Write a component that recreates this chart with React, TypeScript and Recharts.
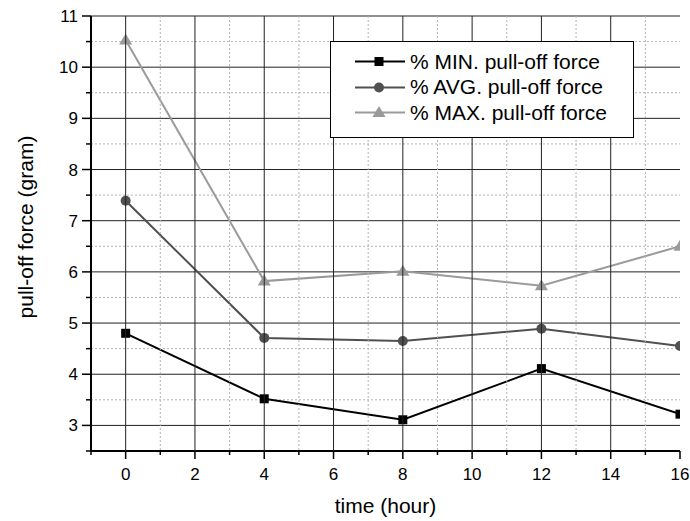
import React from "react";
import { LineChart, Line, XAxis, YAxis, CartesianGrid, Legend } from "recharts";

const times = [0, 4, 8, 12, 16];
const minForce = [4.8, 3.52, 3.11, 4.11, 3.22];
const avgForce = [7.39, 4.71, 4.65, 4.89, 4.55];
const maxForce = [10.53, 5.82, 6.01, 5.73, 6.5];

const xMajorTicks = [0, 2, 4, 6, 8, 10, 12, 14, 16];
const xMinorTicks = [-1, 1, 3, 5, 7, 9, 11, 13, 15];
const yMajorTicks = [3, 4, 5, 6, 7, 8, 9, 10, 11];
const yMinorTicks = [2.5, 3.5, 4.5, 5.5, 6.5, 7.5, 8.5, 9.5, 10.5];
const xDomain = [-1, 16];
const yDomain = [2.5, 11];

const data = times.map((t, i) => ({
    time: t,
    min: minForce[i],
    avg: avgForce[i],
    max: maxForce[i],
}));

const FONT = '"Liberation Sans", Arial, sans-serif';
const MARGIN = { top: 16, right: 10, bottom: 0, left: 0 };
const allX = [...xMajorTicks, ...xMinorTicks].sort((a, b) => a - b);
const allY = [...yMajorTicks, ...yMinorTicks].sort((a, b) => a - b);

const COLORS = { min: "#000000", avg: "#505050", max: "#9a9a9a" };

// horizontal grid rows through the y scale (falls back to a linear map of the plot box)
const yCoords = (values: number[]) => ({ yAxis, offset }: any) =>
    values.map((v) => {
        const s = yAxis && typeof yAxis.scale === "function" ? yAxis.scale(v) : NaN;
        return Number.isFinite(s)
            ? s
            : offset.top + ((yDomain[1] - v) / (yDomain[1] - yDomain[0])) * offset.height;
    });

const SquareDot = (props: any) => {
    const { cx, cy, index } = props;
    if (cx == null || cy == null) return null;
    return <rect key={"s" + index} x={cx - 4.5} y={cy - 4.5} width={9} height={9} fill={COLORS.min} />;
};

const CircleDot = (props: any) => {
    const { cx, cy, index } = props;
    if (cx == null || cy == null) return null;
    return <circle key={"c" + index} cx={cx} cy={cy} r={5} fill={COLORS.avg} />;
};

const TriangleDot = (props: any) => {
    const { cx, cy, index } = props;
    if (cx == null || cy == null) return null;
    return (
        <polygon
            key={"t" + index}
            points={`${cx},${cy - 6.5} ${cx - 6.5},${cy + 4.5} ${cx + 6.5},${cy + 4.5}`}
            fill={COLORS.max}
        />
    );
};

// bottom ticks also carry the vertical grid, drawn as thin rects (plain lines did not show)
const BottomTick = ({ x, y, payload }: any) => {
    const v = payload.value;
    const major = xMajorTicks.includes(v);
    const inside = v > xDomain[0] && v < xDomain[1];
    const h = y - MARGIN.top;
    return (
        <g>
            {inside && h > 0 && (
                <rect
                    x={x - 0.5}
                    y={MARGIN.top}
                    width={1}
                    height={h}
                    fill={major ? "#222" : "url(#minorDots)"}
                />
            )}
            <rect x={x - 0.75} y={y} width={1.5} height={major ? 8 : 4} fill="#000" />
            {major && (
                <text x={x} y={y + 29} textAnchor="middle" fontSize={17} fontFamily={FONT} fill="#000">
                    {v}
                </text>
            )}
        </g>
    );
};

const LeftTick = ({ x, y, payload }: any) => {
    const major = yMajorTicks.includes(payload.value);
    return (
        <g>
            <line x1={x - (major ? 9 : 5)} x2={x} y1={y} y2={y} stroke="#000" strokeWidth={1.5} />
            {major && (
                <text x={x - 13} y={y + 6} textAnchor="end" fontSize={17} fontFamily={FONT} fill="#000">
                    {payload.value}
                </text>
            )}
        </g>
    );
};

const TopTick = ({ x, y, payload }: any) => {
    const major = xMajorTicks.includes(payload.value);
    return <rect x={x - 0.75} y={y} width={1.5} height={major ? 8 : 4} fill="#000" />;
};

const RightTick = ({ x, y, payload }: any) => {
    const major = yMajorTicks.includes(payload.value);
    return <line x1={x - (major ? 8 : 4)} x2={x} y1={y} y2={y} stroke="#000" strokeWidth={1.5} />;
};

const legendRows = [
    { key: "min", label: "% MIN. pull-off force", color: COLORS.min },
    { key: "avg", label: "% AVG. pull-off force", color: COLORS.avg },
    { key: "max", label: "% MAX. pull-off force", color: COLORS.max },
];

const LegendMarker = ({ k, color }: { k: string; color: string }) => {
    if (k === "min") return <rect x={20.5} y={8} width={9} height={9} fill={color} />;
    if (k === "avg") return <circle cx={25} cy={12.5} r={5} fill={color} />;
    return <polygon points="25,6 18.5,17 31.5,17" fill={color} />;
};

const renderLegend = () => (
    <div
        style={{
            width: 302,
            height: 88,
            border: "1.5px solid #000",
            background: "#fff",
            paddingTop: 7,
            boxSizing: "content-box",
        }}
    >
        {legendRows.map((r) => (
            <div key={r.key} style={{ display: "flex", alignItems: "center", height: 25.5 }}>
                <svg width={52} height={25} style={{ marginLeft: 23, display: "block" }}>
                    <line x1={1} x2={51} y1={12.5} y2={12.5} stroke={r.color} strokeWidth={2} />
                    <LegendMarker k={r.key} color={r.color} />
                </svg>
                <span style={{ marginLeft: 4, fontSize: 21, fontFamily: FONT, color: "#000", whiteSpace: "nowrap" }}>
                    {r.label}
                </span>
            </div>
        ))}
    </div>
);

export default function App() {
    return (
        <div style={{ position: "absolute", left: 0, top: 0, width: 690, height: 521, background: "#fff" }}>
            <LineChart width={690} height={521} data={data} margin={MARGIN}>
                <defs>
                    <pattern id="minorDots" patternUnits="userSpaceOnUse" width={4} height={4}>
                        <rect x={0} y={0} width={4} height={2} fill="#b4b4b4" />
                    </pattern>
                </defs>
                <CartesianGrid
                    vertical={false}
                    horizontalCoordinatesGenerator={yCoords(yMinorTicks)}
                    stroke="#b4b4b4"
                    strokeDasharray="2 2"
                />
                <CartesianGrid
                    vertical={false}
                    horizontalCoordinatesGenerator={yCoords(yMajorTicks)}
                    stroke="#222"
                    strokeWidth={1}
                />
                <XAxis
                    dataKey="time"
                    type="number"
                    domain={xDomain}
                    ticks={allX}
                    interval={0}
                    allowDataOverflow
                    height={70}
                    tickSize={0}
                    tickMargin={0}
                    tickLine={false}
                    tick={<BottomTick />}
                    axisLine={{ stroke: "#000", strokeWidth: 2 }}
                    label={(p: any) => {
                        const vb = p.viewBox;
                        return (
                            <text
                                x={vb.x + vb.width / 2}
                                y={513}
                                textAnchor="middle"
                                fontSize={21}
                                fontFamily={FONT}
                                fill="#000"
                            >
                                time (hour)
                            </text>
                        );
                    }}
                />
                <XAxis
                    xAxisId="top"
                    orientation="top"
                    dataKey="time"
                    type="number"
                    domain={xDomain}
                    ticks={allX}
                    interval={0}
                    allowDataOverflow
                    height={0}
                    tickSize={0}
                    tickMargin={0}
                    tickLine={false}
                    tick={<TopTick />}
                    axisLine={{ stroke: "#000", strokeWidth: 2 }}
                />
                <YAxis
                    type="number"
                    domain={yDomain}
                    ticks={allY}
                    interval={0}
                    allowDataOverflow
                    width={91}
                    tickSize={0}
                    tickMargin={0}
                    tickLine={false}
                    tick={<LeftTick />}
                    axisLine={{ stroke: "#000", strokeWidth: 2 }}
                    label={() => (
                        <text
                            x={33}
                            y={227}
                            transform="rotate(-90, 33, 227)"
                            textAnchor="middle"
                            fontSize={21}
                            fontFamily={FONT}
                            fill="#000"
                        >
                            pull-off force (gram)
                        </text>
                    )}
                />
                <YAxis
                    yAxisId="right"
                    orientation="right"
                    type="number"
                    domain={yDomain}
                    ticks={allY}
                    interval={0}
                    allowDataOverflow
                    width={0}
                    tickSize={0}
                    tickMargin={0}
                    tickLine={false}
                    tick={<RightTick />}
                    axisLine={{ stroke: "#000", strokeWidth: 2 }}
                />
                <Legend
                    layout="vertical"
                    align="center"
                    verticalAlign="middle"
                    content={renderLegend}
                    wrapperStyle={{ left: 330, top: 41, width: 305, height: 91 }}
                />
                <Line
                    type="linear"
                    dataKey="min"
                    name="% MIN. pull-off force"
                    stroke={COLORS.min}
                    strokeWidth={2}
                    dot={SquareDot}
                    activeDot={false}
                    isAnimationActive={false}
                />
                <Line
                    type="linear"
                    dataKey="avg"
                    name="% AVG. pull-off force"
                    stroke={COLORS.avg}
                    strokeWidth={2}
                    dot={CircleDot}
                    activeDot={false}
                    isAnimationActive={false}
                />
                <Line
                    type="linear"
                    dataKey="max"
                    name="% MAX. pull-off force"
                    stroke={COLORS.max}
                    strokeWidth={2}
                    dot={TriangleDot}
                    activeDot={false}
                    isAnimationActive={false}
                />
            </LineChart>
        </div>
    );
}
